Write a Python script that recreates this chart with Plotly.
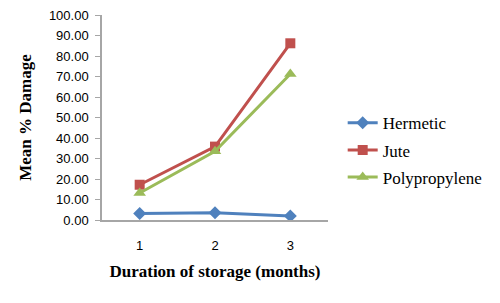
import plotly.graph_objects as go

months = ["1", "2", "3"]
hermetic = [3.2, 3.5, 2.0]
jute = [17.2, 35.8, 86.2]
polypropylene = [13.2, 33.5, 71.2]
y_ticks = [0, 10, 20, 30, 40, 50, 60, 70, 80, 90, 100]

series = [
    ("Hermetic", hermetic, "#4f81bd", "diamond", 10),
    ("Jute", jute, "#c0504d", "square", 10),
    ("Polypropylene", polypropylene, "#9bbb59", "triangle-up", 11),
]

fig = go.Figure()
for i, (name, vals, color, sym, size) in enumerate(series):
    fig.add_trace(go.Scatter(
        x=months, y=vals, name=name, mode="lines+markers",
        line=dict(color=color, width=3),
        marker=dict(symbol=sym, size=size, color=color),
        legendgroup=f"g{i}",
    ))

# page body has an 8px default margin; margins compensate for it
fig.update_layout(
    width=500, height=303,
    margin=dict(l=94, r=180, t=7, b=91, autoexpand=False),
    paper_bgcolor="white", plot_bgcolor="white",
    showlegend=True,
    legend=dict(
        x=1.065, y=0.34, xanchor="left", yanchor="middle",
        font=dict(family="Liberation Serif", size=17, color="black"),
        tracegroupgap=2, traceorder="grouped",
        itemwidth=30, bgcolor="rgba(0,0,0,0)",
    ),
    xaxis=dict(
        type="category", range=[-0.5, 2.5], automargin=False,
        showline=True, linecolor="#a6a6a6", linewidth=1.5,
        showgrid=False, ticks="", zeroline=False,
        tickfont=dict(family="Liberation Sans", size=13, color="black"),
        ticklabelstandoff=13,
        title=dict(text="<b>Duration of storage (months)</b>",
                   font=dict(family="Liberation Serif", size=17, color="black"),
                   standoff=13),
    ),
    yaxis=dict(
        range=[0, 100], tickvals=y_ticks, tickformat=".2f", automargin=False,
        showline=True, linecolor="#a6a6a6", linewidth=1.5,
        showgrid=False, zeroline=False, ticklabeloverflow="allow",
        ticks="outside", ticklen=5, tickcolor="#a6a6a6",
        tickfont=dict(family="Liberation Sans", size=13, color="black"),
        ticklabelstandoff=4,
        title=dict(text="<b>Mean % Damage</b>",
                   font=dict(family="Liberation Serif", size=17, color="black"),
                   standoff=13),
    ),
)

fig.write_html("out.html")
